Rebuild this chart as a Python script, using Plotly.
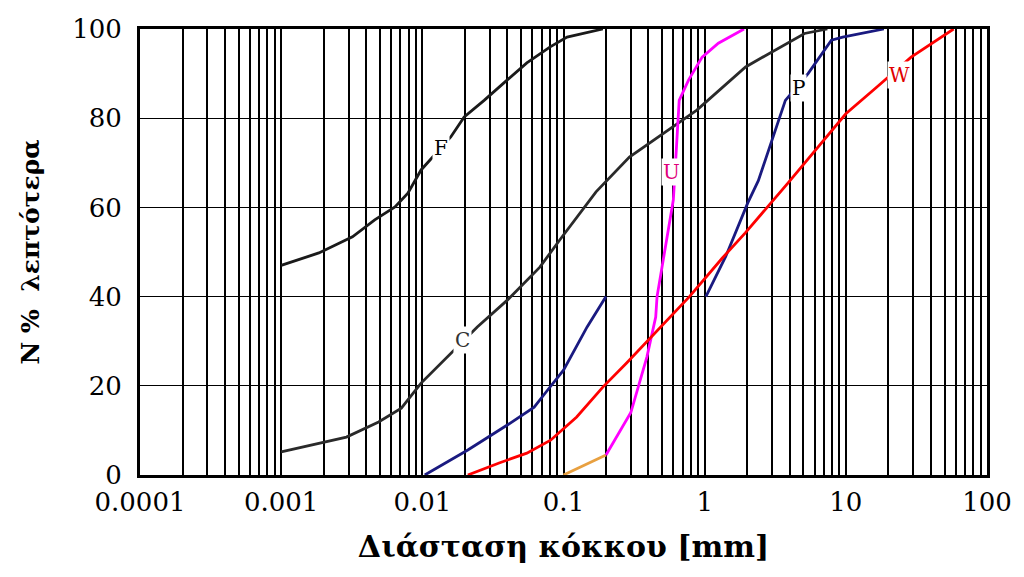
import math
import plotly.graph_objects as go

# ---- data ----
f_x = [0.001, 0.00185, 0.0032, 0.0046, 0.0064, 0.0079, 0.0098, 0.0159, 0.0198, 0.0274, 0.04, 0.055, 0.0805, 0.106, 0.19]
f_y = [47, 49.8, 53.4, 57.2, 60.1, 63.2, 68.4, 75.8, 80.3, 84, 88.6, 92.4, 96, 98.2, 100]

c_x = [0.001, 0.0029, 0.0049, 0.0071, 0.0098, 0.0151, 0.0245, 0.04, 0.068, 0.094, 0.17, 0.293, 0.59, 0.88, 1.95, 5.1, 7.4]
c_y = [5.2, 8.5, 11.9, 15, 20.6, 26.5, 33.2, 39.2, 46.6, 52.7, 63.5, 71.3, 78, 81.8, 91.5, 99, 100]

b_x = [0.0104, 0.021, 0.04, 0.062, 0.077, 0.1, 0.147, 0.2]
b_y = [0, 5.6, 11.2, 15.2, 19, 23.5, 33.2, 40]

p_x = [1.02, 1.41, 2.02, 2.4, 3.73, 5.4, 7.9, 9.5, 18.6]
p_y = [40, 49, 61, 66, 84, 90, 97.5, 98.2, 100]

o_x = [0.1, 0.2]
o_y = [0, 4.5]

u_x = [0.2, 0.3, 0.39, 0.45, 0.46, 0.55, 0.6, 0.63, 0.66, 0.77, 0.96, 1.25, 1.9]
u_y = [4.5, 14, 26.5, 35.4, 40, 55, 61.7, 73, 84, 88.6, 93.7, 96.8, 100]

w_x = [0.021, 0.035, 0.055, 0.081, 0.124, 0.19, 0.28, 0.78, 1.33, 1.94, 3.9, 10, 16.6, 29, 58]
w_y = [0, 2.7, 4.9, 7.8, 13, 19.7, 25.1, 40, 48.6, 54.3, 65.5, 81, 87, 93.7, 100]

lab_text = ["F", "C", "U", "P", "W"]
lab_x = [0.0135, 0.0193, 0.578, 4.59, 24]
lab_y = [73.3, 30.3, 68, 86.8, 89.7]
lab_col = ["#000000", "#333333", "#e0007a", "#000000", "#e00000"]

x_tickvals = [0.0001, 0.001, 0.01, 0.1, 1, 10, 100]
x_ticktext = ["0.0001", "0.001", "0.01", "0.1", "1", "10", "100"]
y_tickvals = [0, 20, 40, 60, 80, 100]

SERIF = "DejaVu Serif"

fig = go.Figure()
series = [
    (f_x, f_y, "#1a1a1a"),
    (c_x, c_y, "#2a2a2a"),
    (b_x, b_y, "#1a1a80"),
    (p_x, p_y, "#1a1a80"),
    (o_x, o_y, "#e8a040"),
    (u_x, u_y, "#ff00ff"),
    (w_x, w_y, "#ff0000"),
]
for xs, ys, col in series:
    fig.add_trace(go.Scatter(x=xs, y=ys, mode="lines",
                             line=dict(color=col, width=2.8),
                             showlegend=False, hoverinfo="skip"))

for t, x, y, c in zip(lab_text, lab_x, lab_y, lab_col):
    fig.add_annotation(x=math.log10(x), y=y, xref="x", yref="y", text=t, showarrow=False,
                       font=dict(family=SERIF, size=20, color=c),
                       bgcolor="white", borderpad=1)

fig.update_layout(
    width=1024, height=577,
    margin=dict(l=140, r=29, t=29, b=102),
    paper_bgcolor="white", plot_bgcolor="white",
    font=dict(family=SERIF, color="black"),
)
fig.update_xaxes(
    type="log", range=[-4, 2],
    tickvals=x_tickvals, ticktext=x_ticktext,
    tickfont=dict(family=SERIF, size=26, color="black"),
    ticklabelstandoff=2,
    showgrid=True, gridcolor="black", gridwidth=2,
    minor=dict(dtick="D1", showgrid=True, gridcolor="black", gridwidth=1.6, ticks=""),
    showline=True, linecolor="black", linewidth=3, mirror=True,
    ticks="", zeroline=False,
    title=dict(text="<b>Διάσταση κόκκου [mm]</b>",
               font=dict(family=SERIF, size=30, color="black"),
               standoff=20),
)
fig.update_yaxes(
    range=[0, 100], tickvals=y_tickvals,
    tickfont=dict(family=SERIF, size=26, color="black"),
    ticklabelstandoff=10,
    showgrid=True, gridcolor="black", gridwidth=1,
    showline=True, linecolor="black", linewidth=3, mirror=True,
    ticks="", zeroline=False,
    title=dict(text="<b>N %  λεπτότερα</b>",
               font=dict(family=SERIF, size=25, color="black"),
               standoff=26),
)

fig.write_html("out.html", config={"displayModeBar": False},
               post_script="document.body.style.margin='0px';")
